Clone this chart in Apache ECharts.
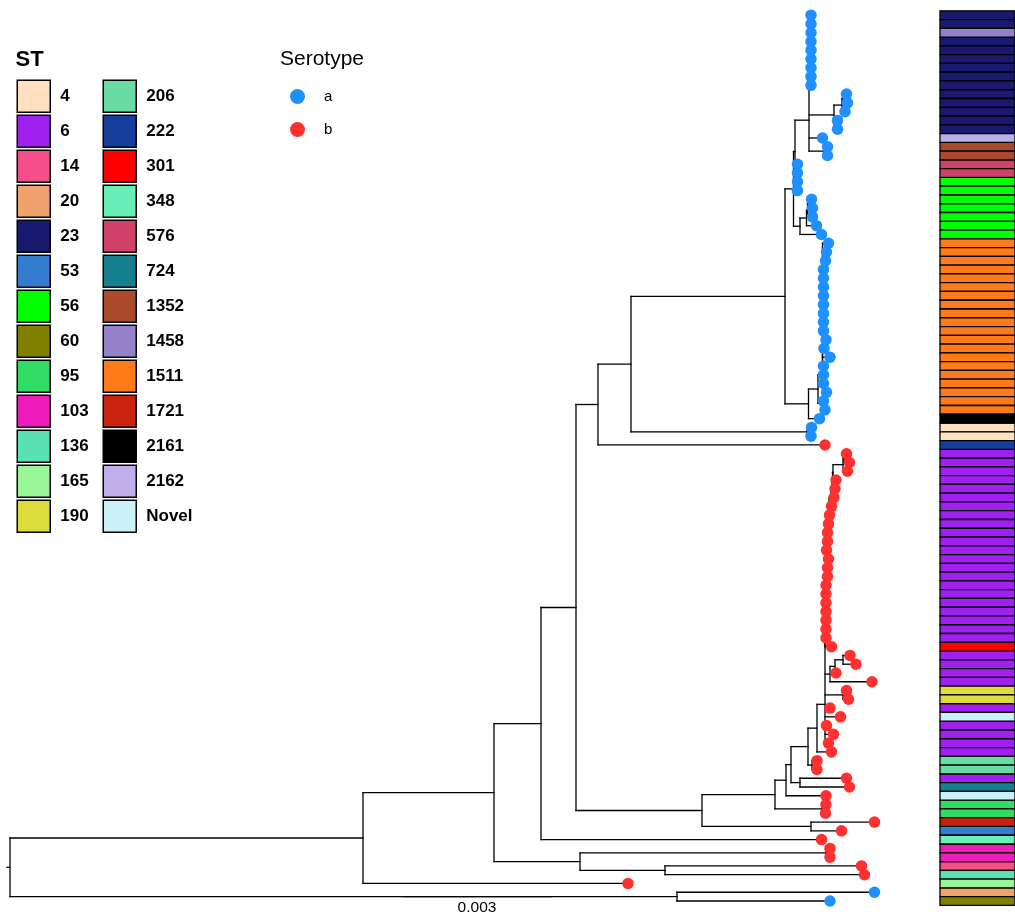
<!DOCTYPE html>
<html><head><meta charset="utf-8">
<script src="https://cdn.jsdelivr.net/npm/echarts@6/dist/echarts.min.js"></script>
<style>html,body{margin:0;padding:0;background:#fff}#c{width:1015px;height:915px}</style>
</head><body><div id="c"></div><script>
// ---------------- DATA ----------------
// tips are numbered 1..102 from top to bottom (row order)
// tip depth along the tree, in units of 0.001 substitutions/site
const tipDepth = [
 16.02,16.02,16.02,16.02,16.02,16.02,16.02,16.02,16.02,16.73,
 16.75,16.70,16.55,16.55,16.25,16.35,16.35,15.75,15.75,15.75,
 15.75,16.03,16.05,16.05,16.13,16.23,16.37,16.33,16.31,16.27,
 16.27,16.27,16.27,16.27,16.27,16.27,16.27,16.32,16.28,16.40,
 16.27,16.27,16.27,16.33,16.27,16.30,16.19,16.03,16.02,16.30,
 16.73,16.79,16.75,16.52,16.50,16.48,16.43,16.39,16.37,16.35,
 16.35,16.33,16.37,16.35,16.35,16.32,16.32,16.32,16.32,16.32,
 16.32,16.32,16.43,16.80,16.92,16.52,17.24,16.73,16.77,16.40,
 16.61,16.33,16.47,16.37,16.43,16.14,16.14,16.73,16.79,16.32,
 16.32,16.31,17.29,16.63,16.23,16.40,16.40,17.03,17.09,12.36,
 17.29,16.40
];
const tipSerotype = [
 'a','a','a','a','a','a','a','a','a','a','a','a','a','a','a','a','a','a','a','a',
 'a','a','a','a','a','a','a','a','a','a','a','a','a','a','a','a','a','a','a','a',
 'a','a','a','a','a','a','a','a','a','b','b','b','b','b','b','b','b','b','b','b',
 'b','b','b','b','b','b','b','b','b','b','b','b','b','b','b','b','b','b','b','b',
 'b','b','b','b','b','b','b','b','b','b','b','b','b','b','b','b','b','b','b','b',
 'a','a'
];
const tipST = [
 '23','23','1458','23','23','23','23','23','23','23',
 '23','23','23','23','2162','1352','1352','576','576','56',
 '56','56','56','56','56','56','1511','1511','1511','1511',
 '1511','1511','1511','1511','1511','1511','1511','1511','1511','1511',
 '1511','1511','1511','1511','1511','1511','2161','4','4','222',
 '6','6','6','6','6','6','6','6','6','6',
 '6','6','6','6','6','6','6','6','6','6',
 '6','6','301','6','6','6','6','190','190','6',
 'Novel','6','6','6','6','206','206','6','724','Novel',
 '95','95','1721','53','348','103','103','14','136','165',
 '20','60'
];
// internal nodes: [name, depth, children...]; numbers are tips
const clades = [
 ['root',0,'n1','nBot'],
 ['nBot',13.34,101,102],
 ['n1',7.06,'n2',100],
 ['n2',9.68,'n541','n4'],
 ['n541',10.62,'n576',95],
 ['n4',11.40,'n96','n98'],
 ['n96',16.32,96,97],
 ['n98',13.10,98,99],
 ['n576',11.32,'n598','n5'],
 ['n598',11.76,'n631',50],
 ['n631',12.42,'n786','n48'],
 ['n48',15.94,48,49],
 ['n786',15.50,'n794','n808'],
 ['n794',15.67,'m','n800'],
 ['m',15.70,'a','l21'],
 ['l19',15.72,18,19],['l20',15.72,'l19',20],['l21',15.72,'l20',21],
 ['a',15.98,'l9','b',15,'f'],
 ['l2',16.00,1,2],['l3',16.00,'l2',3],['l4',16.00,'l3',4],['l5',16.00,'l4',5],
 ['l6',16.00,'l5',6],['l7',16.00,'l6',7],['l8',16.00,'l7',8],['l9',16.00,'l8',9],
 ['b',16.48,'c','d'],
 ['c',16.64,'c1',12],
 ['c1',16.66,10,11],
 ['d',16.50,13,14],
 ['f',16.33,16,17],
 ['n800',15.80,'l25',26],
 ['l23',15.96,22,23],['l24',15.95,'l23',24],['l25',15.93,'l24',25],
 ['n808',15.97,'n818',47],
 ['n818',16.16,'k43','k46'],
 ['k28',16.25,27,28],['k29',16.25,'k28',29],['k30',16.25,'k29',30],['k31',16.25,'k30',31],
 ['k32',16.25,'k31',32],['k33',16.25,'k32',33],['k34',16.25,'k33',34],['k35',16.25,'k34',35],
 ['k36',16.25,'k35',36],['k37',16.25,'k36',37],['k38',16.25,'k37',38],['k39',16.25,'k38',39],
 ['k40',16.25,'k39',40],['k41',16.25,'k40',41],['k42',16.25,'k41',42],['k43',16.25,'k42',43],
 ['k45',16.25,44,45],['k46',16.25,'k45',46],
 ['n5',13.84,'n6','n93'],
 ['n93',16.02,93,94],
 ['n6',15.30,'n7','n91'],
 ['n91',16.24,91,92],
 ['n7',15.52,'n8',90],
 ['n8',15.62,'n9','n10'],
 ['n10',15.80,88,89],
 ['n9',15.96,'n11','n86'],
 ['n86',16.04,86,87],
 ['n11',16.14,'n12',85],
 ['n12',16.30,'h73','nb','n78',80,81,82,83,84],
 ['n78',16.66,78,79],
 ['nb',16.40,'na',77],
 ['na',16.50,'n74',76],
 ['n74',16.66,74,75],
 ['h52',16.68,51,52],['h53',16.66,'h52',53],['h54',16.46,'h53',54],['h55',16.45,'h54',55],
 ['h56',16.44,'h55',56],['h57',16.42,'h56',57],['h58',16.38,'h57',58],['h59',16.36,'h58',59],
 ['h60',16.35,'h59',60],['h61',16.34,'h60',61],['h62',16.33,'h61',62],['h63',16.33,'h62',63],
 ['h64',16.32,'h63',64],['h65',16.32,'h64',65],['h66',16.315,'h65',66],['h67',16.31,'h66',67],
 ['h68',16.31,'h67',68],['h69',16.305,'h68',69],['h70',16.305,'h69',70],['h71',16.30,'h70',71],
 ['h72',16.30,'h71',72],['h73',16.30,'h72',73]
];
const rootEdge = 0.06;
const scaleBar = {start: 7.84, length: 3, row: 101.5, label: '0.003'};
const serotypeNames = ['a','b'];
const serotypeColors = ['#1E90FF','#FF3030'];
const stNames = ['4','6','14','20','23','53','56','60','95','103','136','165','190',
                 '206','222','301','348','576','724','1352','1458','1511','1721','2161','2162','Novel'];
const stColors = ['#FFE0C0','#A020F0','#F64E8B','#EFA26B','#191970','#337CD0','#00FF00','#808000',
                  '#30DC64','#ED1CBB','#5BE0B3','#98F598','#DCDC3A',
                  '#68DCA4','#163E9C','#FF0000','#67EFB6','#D04068','#157F8F','#AB4A2B','#9580CA',
                  '#FD7B18','#CA230D','#000000','#BEAFEA','#C9F1F7'];

// ---------------- BUILD ----------------
const cladeMap = {};
clades.forEach(c => { cladeMap[c[0]] = {depth: c[1], kids: c.slice(2)}; });
const yCache = {};
function yOf(k) {
  if (typeof k === 'number') return k;
  if (yCache[k] !== undefined) return yCache[k];
  const c = cladeMap[k];
  const ys = c.kids.map(yOf);
  return (yCache[k] = ys.reduce((s, v) => s + v, 0) / ys.length);
}
function xOf(k) { return typeof k === 'number' ? tipDepth[k - 1] : cladeMap[k].depth; }
const segs = [];
clades.forEach(c => {
  const d = c[1], kids = c.slice(2), ys = kids.map(yOf);
  segs.push([d, Math.min(...ys), d, Math.max(...ys)]);
  kids.forEach((k, i) => segs.push([d, ys[i], xOf(k), ys[i]]));
});
const ry = yOf('root');
segs.push([-rootEdge, ry, 0, ry]);

const font = 'Liberation Sans, Arial, Helvetica, sans-serif';
const series = [];
series.push({
  type: 'custom', name: 'branches', xAxisIndex: 0, yAxisIndex: 0, silent: true,
  data: segs, encode: {x: [0, 2], y: [1, 3]},
  renderItem: (p, api) => {
    const a = api.coord([api.value(0), api.value(1)]);
    const b = api.coord([api.value(2), api.value(3)]);
    return {type: 'line', shape: {x1: a[0], y1: a[1], x2: b[0], y2: b[1]},
            style: {stroke: '#000', lineWidth: 1.3, lineCap: 'square'}};
  }
});
series.push({
  type: 'custom', name: 'scale', xAxisIndex: 0, yAxisIndex: 0, silent: true,
  data: [[scaleBar.start, scaleBar.row, scaleBar.start + scaleBar.length]],
  encode: {x: [0, 2], y: 1},
  renderItem: (p, api) => {
    const a = api.coord([api.value(0), api.value(1)]);
    const b = api.coord([api.value(2), api.value(1)]);
    return {type: 'group', children: [
      {type: 'line', shape: {x1: a[0], y1: a[1], x2: b[0], y2: b[1]}, style: {stroke: '#000', lineWidth: 1.3}},
      {type: 'text', x: (a[0] + b[0]) / 2, y: a[1] + 11.5,
       style: {text: scaleBar.label, fill: '#000', font: '15.5px ' + font, align: 'center', verticalAlign: 'middle'}}
    ]};
  }
});
serotypeNames.forEach((s, si) => {
  const pts = [];
  tipSerotype.forEach((v, i) => { if (v === s) pts.push([tipDepth[i], i + 1]); });
  series.push({type: 'scatter', name: s, xAxisIndex: 0, yAxisIndex: 0, data: pts,
    symbol: 'circle', symbolSize: 11.5, itemStyle: {color: serotypeColors[si], opacity: 1}, z: 3});
});
stNames.forEach((s, si) => {
  const rows = [];
  tipST.forEach((v, i) => { if (v === s) rows.push([0.5, i + 1]); });
  series.push({type: 'custom', name: s, xAxisIndex: 1, yAxisIndex: 1, data: rows,
    encode: {x: 0, y: 1}, itemStyle: {color: stColors[si]},
    renderItem: (p, api) => {
      const r = api.value(1);
      const a = api.coord([0, r - 0.5]);
      const b = api.coord([1, r + 0.5]);
      return {type: 'rect', shape: {x: a[0], y: a[1], width: b[0] - a[0], height: b[1] - a[1]},
              style: {fill: stColors[si], stroke: '#000', lineWidth: 1.3}};
    }});
});

const stLegendCommon = {
  orient: 'vertical', top: 79.5, itemWidth: 33, itemHeight: 32, itemGap: 1.5, icon: 'rect',
  selectedMode: false, itemStyle: {borderColor: '#000', borderWidth: 1.5},
  textStyle: {fontSize: 17, fontWeight: 'bold', color: '#000', fontFamily: font, padding: [0, 0, 0, 5]},
  padding: 0
};
const option = {
  animation: false,
  backgroundColor: '#fff',
  textStyle: {fontFamily: font},
  title: [
    {text: 'ST', left: 15.5, top: 49, padding: 0, textStyle: {fontSize: 22, fontWeight: 'bold', color: '#000', fontFamily: font}},
    {text: 'Serotype', left: 280, top: 48.5, padding: 0, textStyle: {fontSize: 21, fontWeight: 'normal', color: '#000', fontFamily: font}}
  ],
  legend: [
    Object.assign({}, stLegendCommon, {left: 16.5, data: stNames.slice(0, 13)}),
    Object.assign({}, stLegendCommon, {left: 102.5, data: stNames.slice(13)}),
    {orient: 'vertical', left: 290, top: 89, padding: 0, itemWidth: 15, itemHeight: 15, itemGap: 18,
     icon: 'circle', selectedMode: false, data: serotypeNames,
     textStyle: {fontSize: 15, color: '#000', fontFamily: font, padding: [0, 0, 0, 14]}}
  ],
  grid: [
    {left: 5, top: 10.8, width: 1000, height: 894.6},
    {left: 940, top: 10.8, width: 85, height: 894.6}
  ],
  xAxis: [
    {type: 'value', gridIndex: 0, min: -0.1, max: 19.9, show: false},
    {type: 'value', gridIndex: 1, min: 0, max: 1, show: false}
  ],
  yAxis: [
    {type: 'value', gridIndex: 0, min: 0.5, max: 102.5, inverse: true, show: false},
    {type: 'value', gridIndex: 1, min: 0.5, max: 102.5, inverse: true, show: false}
  ],
  series: series
};
const chart = echarts.init(document.getElementById('c'), null, {renderer: 'canvas'});
chart.setOption(option);
</script></body></html>
